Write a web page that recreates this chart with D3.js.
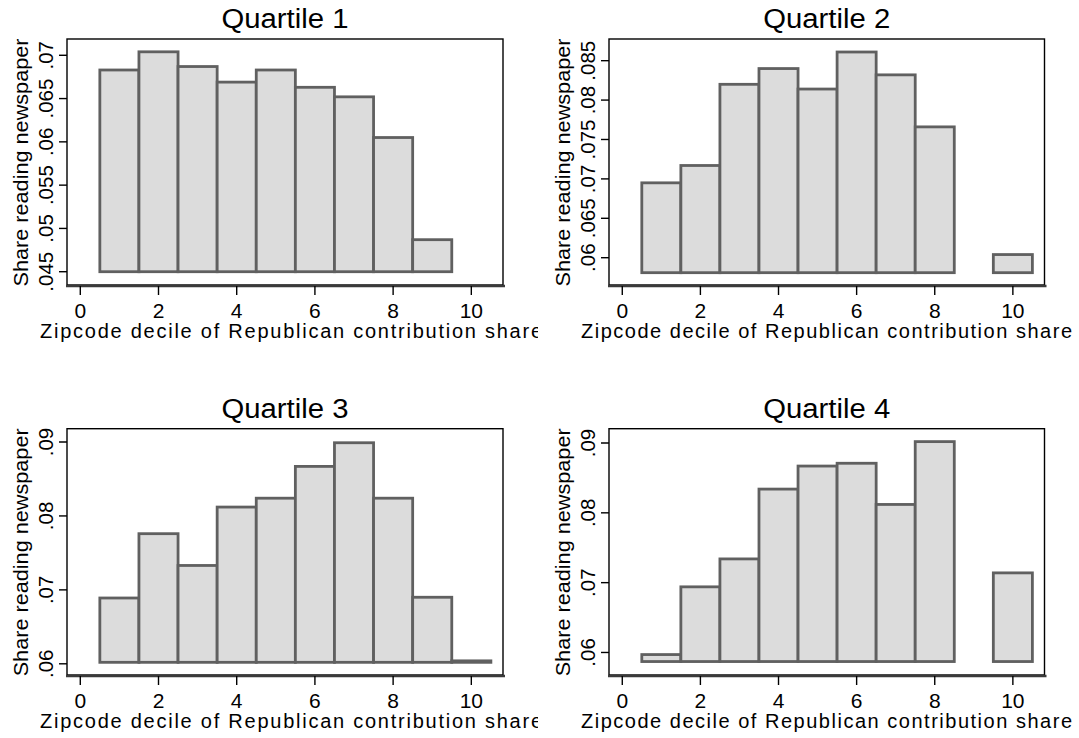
<!DOCTYPE html>
<html>
<head>
<meta charset="utf-8">
<script src="https://cdn.jsdelivr.net/npm/d3@7"></script>
<style>
  body { margin: 0; background: #fff; }
  svg { display: block; font-family: "Liberation Sans", Arial, sans-serif; }
</style>
</head>
<body>
<div id="chart"></div>
<script>
// deciles of the zipcode Republican contribution share
const deciles = [1, 2, 3, 4, 5, 6, 7, 8, 9, 10];
const xTicks = [0, 2, 4, 6, 8, 10];

// share reading newspaper, one list per quartile (null = no bar)
const q1Share = [0.0683, 0.0704, 0.0687, 0.0669, 0.0683, 0.0663, 0.0652, 0.0605, 0.0487, null];
const q2Share = [0.0695, 0.0717, 0.0820, 0.0840, 0.0814, 0.0861, 0.0832, 0.0766, null, 0.0604];
const q3Share = [0.0689, 0.0776, 0.0733, 0.0812, 0.0824, 0.0867, 0.0899, 0.0824, 0.0690, 0.0604];
const q4Share = [0.0597, 0.0694, 0.0734, 0.0834, 0.0867, 0.0871, 0.0812, 0.0902, null, 0.0714];

const q1Ticks = [0.045, 0.05, 0.055, 0.06, 0.065, 0.07];
const q2Ticks = [0.06, 0.065, 0.07, 0.075, 0.08, 0.085];
const q3Ticks = [0.06, 0.07, 0.08, 0.09];
const q4Ticks = [0.06, 0.07, 0.08, 0.09];

const titles = ["Quartile 1", "Quartile 2", "Quartile 3", "Quartile 4"];
const xTitle = "Zipcode decile of Republican contribution share";
const yTitle = "Share reading newspaper";

//==============================================================================

const width = 1079, height = 738;

const svg = d3.select("#chart").append("svg")
    .attr("width", width)
    .attr("height", height);

const fmt = v => String(+v.toFixed(4)).replace(/^0/, "");

function drawPanel({
  values,
  ticks,
  title,
  base,          // where the bars start
  yDomain,       // value at bottom / top of the plot box
  box,           // [left, top, right, bottom]
  clipRight,
  xTitleStart,
  xTitleLength
}) {
  const [x0, y0, x1, y1] = box;
  const x = d3.scaleLinear().domain([-0.34, 10.81]).range([x0, x1]);
  const y = d3.scaleLinear().domain(yDomain).range([y1, y0]);

  const id = "clip" + title.replace(/\s/g, "");
  svg.append("clipPath").attr("id", id)
    .append("rect")
      .attr("x", clipRight - 540).attr("y", y0 - 45)
      .attr("width", 540).attr("height", 360);

  const g = svg.append("g").attr("clip-path", `url(#${id})`);

  // plot box
  g.append("rect")
      .attr("x", x0).attr("y", y0)
      .attr("width", x1 - x0).attr("height", y1 - y0 - 1)
      .attr("fill", "none")
      .attr("stroke", "#000")
      .attr("stroke-width", 1.4);

  const data = deciles.map((d, i) => ({decile: d, value: values[i]}))
    .filter(d => d.value !== null);

  g.append("g")
      .attr("fill", "#dcdcdc")
      .attr("stroke", "#606060")
      .attr("stroke-width", 2.8)
    .selectAll("rect")
    .data(data)
    .join("rect")
      .attr("x", d => x(d.decile - 0.5))
      .attr("width", d => x(d.decile + 0.5) - x(d.decile - 0.5))
      .attr("y", d => y(d.value))
      .attr("height", d => y(base) - y(d.value));

  // x axis
  g.append("line")
      .attr("x1", x0 - 1).attr("x2", x1 + 2)
      .attr("y1", y1).attr("y2", y1)
      .attr("stroke", "#3a3a3a")
      .attr("stroke-width", 2.4);

  g.append("g")
      .attr("stroke", "#000")
      .attr("stroke-width", 1.4)
    .selectAll("line")
    .data(xTicks)
    .join("line")
      .attr("x1", d => x(d)).attr("x2", d => x(d))
      .attr("y1", y1).attr("y2", y1 + 9);

  g.append("g")
      .attr("font-size", 21)
      .attr("text-anchor", "middle")
    .selectAll("text")
    .data(xTicks)
    .join("text")
      .attr("x", d => x(d))
      .attr("y", y1 + 32)
      .text(d => d);

  g.append("text")
      .attr("x", xTitleStart)
      .attr("y", y1 + 52)
      .attr("font-size", 20)
      .attr("textLength", xTitleLength)
      .attr("lengthAdjust", "spacing")
      .text(xTitle);

  // y axis
  g.append("g")
      .attr("stroke", "#000")
      .attr("stroke-width", 1.4)
    .selectAll("line")
    .data(ticks)
    .join("line")
      .attr("x1", x0 - 8).attr("x2", x0)
      .attr("y1", d => y(d)).attr("y2", d => y(d));

  g.append("g")
      .attr("font-size", 20.5)
      .attr("text-anchor", "middle")
    .selectAll("text")
    .data(ticks)
    .join("text")
      .attr("transform", d => `translate(${x0 - 14},${y(d)}) rotate(-90)`)
      .text(fmt);

  g.append("text")
      .attr("transform", `translate(${x0 - 39},${(y0 + y1) / 2}) rotate(-90)`)
      .attr("text-anchor", "middle")
      .attr("font-size", 21)
      .attr("textLength", 248)
      .attr("lengthAdjust", "spacingAndGlyphs")
      .text(yTitle);

  g.append("text")
      .attr("x", (x0 + x1) / 2)
      .attr("y", y0 - 11)
      .attr("text-anchor", "middle")
      .attr("font-size", 27)
      .attr("textLength", 127)
      .attr("lengthAdjust", "spacingAndGlyphs")
      .text(title);
}

//==============================================================================

drawPanel({
  values: q1Share, ticks: q1Ticks, title: titles[0], base: 0.045,
  yDomain: [0.04335, 0.07188], box: [67, 39, 503, 286],
  clipRight: 538, xTitleStart: 40, xTitleLength: 502
});

drawPanel({
  values: q2Share, ticks: q2Ticks, title: titles[1], base: 0.0581,
  yDomain: [0.05641, 0.08775], box: [609, 39, 1044.5, 286],
  clipRight: 1079, xTitleStart: 581, xTitleLength: 491
});

drawPanel({
  values: q3Share, ticks: q3Ticks, title: titles[2], base: 0.0602,
  yDomain: [0.05835, 0.0918], box: [67, 428.7, 503, 676],
  clipRight: 538, xTitleStart: 40, xTitleLength: 502
});

drawPanel({
  values: q4Share, ticks: q4Ticks, title: titles[3], base: 0.0587,
  yDomain: [0.05663, 0.09205], box: [609, 428.7, 1044.5, 676],
  clipRight: 1079, xTitleStart: 581, xTitleLength: 491
});
</script>
</body>
</html>
